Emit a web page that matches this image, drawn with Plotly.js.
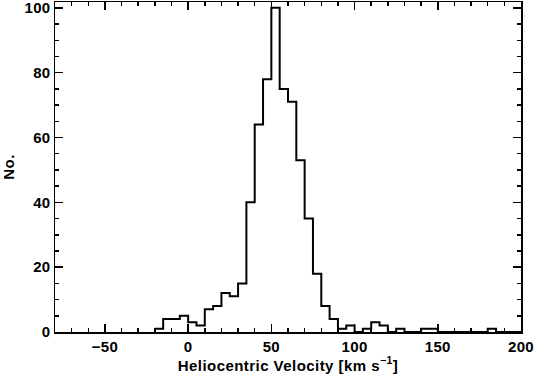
<!DOCTYPE html>
<html>
<head>
<meta charset="utf-8">
<script src="https://cdn.plot.ly/plotly-3.0.1.min.js"></script>
<style>
html,body{margin:0;padding:0;background:#fff;}
#chart{width:534px;height:376px;}
#chart .xtitle, #chart .ytitle{letter-spacing:0.45px;}
#chart .xtick text, #chart .ytick text{letter-spacing:0.3px;}
</style>
</head>
<body>
<div id="chart"></div>
<script>
// Histogram of heliocentric velocities (bin width 5 km/s)
const binStart = -20;
const binWidth = 5;
const counts = [1, 4, 4, 5, 3, 2, 7, 8, 12, 11, 15, 40, 64, 78, 100, 75, 71, 53, 35, 18, 8, 4,
                1, 2, 0, 1, 3, 2, 0, 1, 0, 0, 1, 1, 0, 0, 0, 0, 0, 0, 1, 0, 0, 0];
const xTickVals = [-50, 0, 50, 100, 150, 200];
const yTickVals = [0, 20, 40, 60, 80, 100];

// Step outline from bin edges
const xs = [], ys = [];
for (let i = 0; i < counts.length; i++) {
  xs.push(binStart + i * binWidth);
  ys.push(counts[i]);
}
xs.push(binStart + counts.length * binWidth);
ys.push(counts[counts.length - 1]);

const fam = 'Liberation Sans, Arial, sans-serif';
const boldFont = {family: fam, size: 15, color: '#000', weight: 'bold'};

const trace = {
  x: xs, y: ys, type: 'scatter', mode: 'lines',
  line: {shape: 'hv', color: '#000', width: 2},
  hoverinfo: 'skip', showlegend: false
};

const axisCommon = {
  showgrid: false, zeroline: false, showline: true, linecolor: '#000', linewidth: 1.5,
  mirror: 'ticks', ticks: 'inside', ticklen: 8, tickwidth: 1.5, tickcolor: '#000',
  tickfont: boldFont, ticklabeloverflow: 'allow'
};

const layout = {
  width: 534, height: 376,
  margin: {l: 55, r: 13, t: 2, b: 44},
  paper_bgcolor: '#fff', plot_bgcolor: '#fff',
  font: {family: fam, size: 15, color: '#000'},
  xaxis: Object.assign({}, axisCommon, {
    range: [-80, 200], tickmode: 'array', tickvals: xTickVals,
    minor: {dtick: 10, tick0: 0, ticks: 'inside', ticklen: 4, tickwidth: 1.5, tickcolor: '#000'},
    title: {text: 'Heliocentric Velocity [km s<sup>−1</sup>]', font: boldFont, standoff: 6}
  }),
  yaxis: Object.assign({}, axisCommon, {
    range: [0, 101.8], tickmode: 'array', tickvals: yTickVals,
    minor: {dtick: 5, tick0: 0, ticks: 'inside', ticklen: 4, tickwidth: 1.5, tickcolor: '#000'},
    title: {text: 'No.', font: boldFont, standoff: 12}
  })
};

Plotly.newPlot('chart', [trace], layout, {staticPlot: true, displayModeBar: false});
</script>
</body>
</html>
